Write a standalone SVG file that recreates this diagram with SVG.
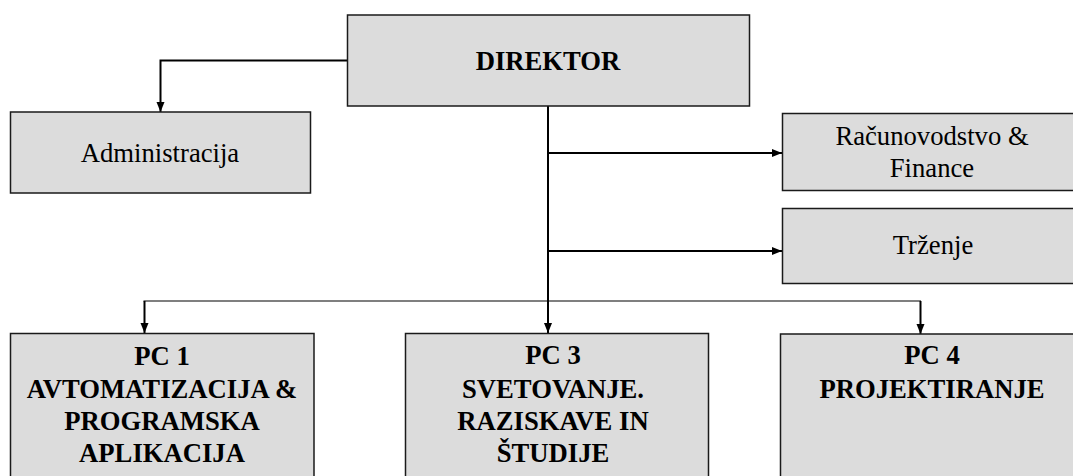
<svg xmlns="http://www.w3.org/2000/svg" width="1073" height="476" viewBox="0 0 1073 476">
<style>
.box{fill:#dcdcdc;stroke:#1a1a1a;stroke-width:1.5}
.t{font-family:'Liberation Serif','Tinos','DejaVu Serif',serif;font-size:26.67px;fill:#000;text-anchor:middle}
.b{font-weight:bold}
.c{fill:none;stroke:#000;stroke-width:2}
.thin{fill:none;stroke:#000;stroke-width:1.2}
</style>
<defs>
<marker id="arr" markerUnits="userSpaceOnUse" markerWidth="10" markerHeight="10" viewBox="0 0 10 10" refX="10" refY="5" orient="auto">
<path d="M0,1 L10,5 L0,9 Z" fill="#000"/>
</marker>
</defs>
<rect width="1073" height="476" fill="#fff"/>
<g id="connectors">
<polyline class="c" points="347,60.5 160.5,60.5 160.5,112" marker-end="url(#arr)"/>
<line class="c" x1="548" y1="106" x2="548" y2="333" marker-end="url(#arr)"/>
<line class="c" x1="548" y1="153" x2="782" y2="153" marker-end="url(#arr)"/>
<line class="c" x1="548" y1="251" x2="782" y2="251" marker-end="url(#arr)"/>
<line class="thin" x1="143.5" y1="301" x2="921" y2="301"/>
<line class="c" x1="144.5" y1="301" x2="144.5" y2="333" marker-end="url(#arr)"/>
<line class="c" x1="920.5" y1="301" x2="920.5" y2="334" marker-end="url(#arr)"/>
</g>
<g id="direktor">
<rect class="box" x="347.5" y="15" width="402" height="91"/>
<text class="t b" x="548" y="70" font-family="Liberation Serif, serif">DIREKTOR</text>
</g>
<g id="administracija">
<rect class="box" x="10.5" y="112" width="300" height="81"/>
<text class="t" x="160" y="162" font-family="Liberation Serif, serif">Administracija</text>
</g>
<g id="racunovodstvo">
<rect class="box" x="782.5" y="113.5" width="300" height="77"/>
<text class="t" x="932" y="145">Računovodstvo &amp;</text>
<text class="t" x="932" y="177">Finance</text>
</g>
<g id="trzenje">
<rect class="box" x="782.5" y="208.5" width="300" height="75"/>
<text class="t" x="933" y="254">Trženje</text>
</g>
<g id="pc1">
<rect class="box" x="10.5" y="333.5" width="303.5" height="150"/>
<text class="t b" x="162" y="365">PC 1</text>
<text class="t b" x="162" y="398">AVTOMATIZACIJA &amp;</text>
<text class="t b" x="162" y="430">PROGRAMSKA</text>
<text class="t b" x="162" y="462">APLIKACIJA</text>
</g>
<g id="pc3">
<rect class="box" x="405.5" y="333.5" width="303" height="150"/>
<text class="t b" x="553" y="364">PC 3</text>
<text class="t b" x="553" y="398">SVETOVANJE.</text>
<text class="t b" x="553" y="430">RAZISKAVE IN</text>
<text class="t b" x="553" y="462">ŠTUDIJE</text>
</g>
<g id="pc4">
<rect class="box" x="780.5" y="334" width="303" height="150"/>
<text class="t b" x="932" y="364">PC 4</text>
<text class="t b" x="932" y="398">PROJEKTIRANJE</text>
</g>
</svg>
